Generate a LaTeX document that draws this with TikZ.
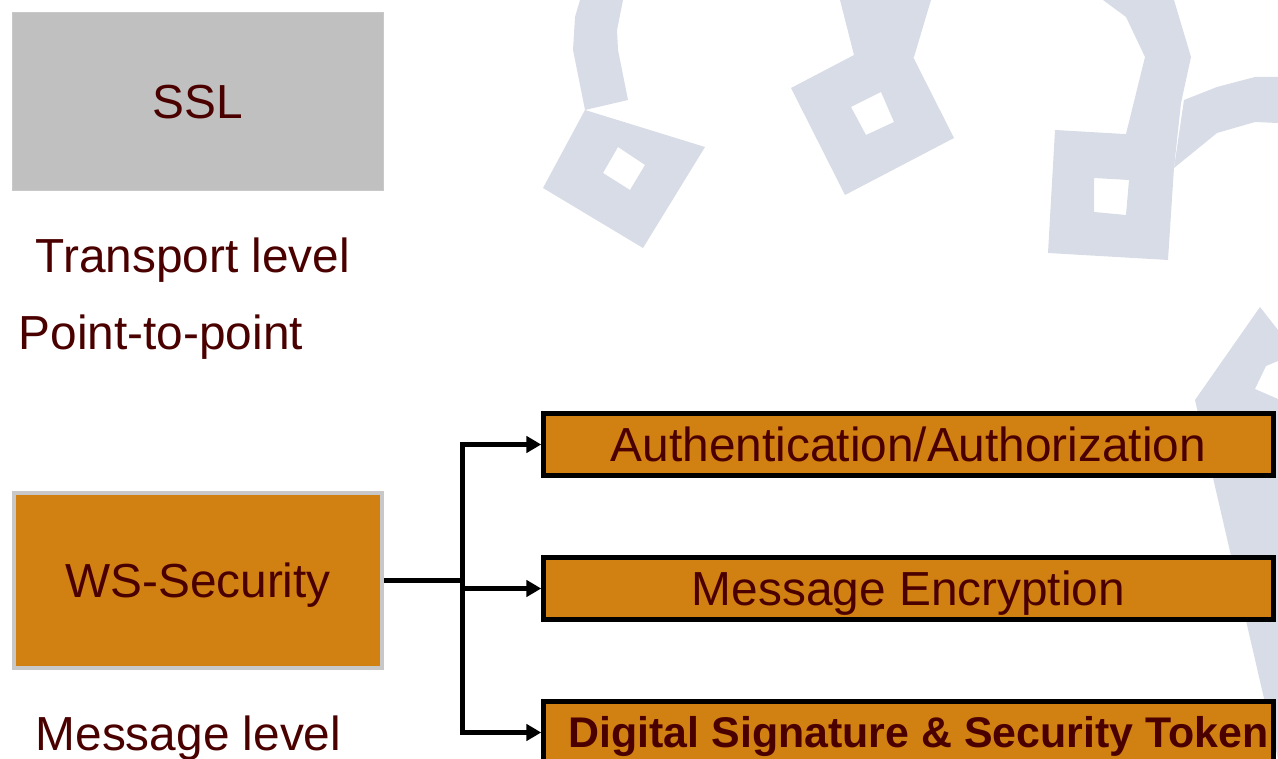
\documentclass[tikz,border=0pt]{standalone}
\usepackage{fontspec}
\setmainfont{Liberation Sans}
\usepackage{tikz}
\usetikzlibrary{arrows.meta, positioning}
\definecolor{ink}{HTML}{4B0000}
\definecolor{amber}{HTML}{D18012}
\definecolor{silver}{HTML}{C0C0C0}
\definecolor{rim}{HTML}{C8C8C8}
\definecolor{wmark}{HTML}{D8DCE6}

\begin{document}
\begin{tikzpicture}[
  font=\fontsize{13.6}{16}\selectfont,
  txt/.style={text=ink, inner sep=0pt},
  lvl/.style={txt, anchor=base west},
  pbox/.style={draw=rim, line width=0.4pt, fill=silver, text=ink,
               minimum width=3.71cm, minimum height=1.78cm,
               text height=9.7pt, text depth=0pt},
  wbox/.style={draw=rim, line width=1.2pt, fill=amber, text=ink,
               minimum width=3.68cm, minimum height=1.75cm,
               text height=9.7pt, text depth=0pt},
  fbox/.style={draw=black, line width=1.3pt, fill=amber, text=ink,
               minimum width=7.30cm, minimum height=0.62cm, inner sep=0pt,
               text height=9.7pt, text depth=0pt},
  wire/.style={line width=1.4pt},
  ar/.style={wire, -{Triangle[length=4.2pt, width=4.6pt]}},
  lock/.style={fill=wmark, even odd rule}
]
\useasboundingbox (0,0) rectangle (12.78,7.59);

% ================= background: pale locks =================
\fill[lock] (5.43,5.71) -- (5.85,6.49) -- (7.05,6.12) -- (6.43,5.11) -- cycle
            (6.18,6.12) -- (6.45,5.94) -- (6.30,5.69) -- (6.03,5.86) -- cycle;
\fill[wmark] (5.85,6.49) -- (5.73,7.09) -- (5.75,7.42) -- (5.80,7.59)
          -- (6.23,7.59) -- (6.17,7.29) -- (6.18,7.09) -- (6.28,6.59) -- cycle;

\fill[lock] (7.91,6.71) -- (9.00,7.28) -- (9.54,6.21) -- (8.45,5.64) -- cycle
            (8.81,6.67) -- (8.94,6.37) -- (8.66,6.24) -- (8.51,6.52) -- cycle;
\fill[wmark] (8.54,7.04) -- (8.40,7.59) -- (9.31,7.59) -- (9.14,7.02) -- cycle;

\fill[lock] (10.55,6.29) -- (11.76,6.22) -- (11.68,4.99) -- (10.48,5.06) -- cycle
            (10.94,5.81) -- (11.29,5.79) -- (11.26,5.44) -- (10.94,5.47) -- cycle;
\fill[wmark] (11.26,6.25) -- (11.45,7.02) -- (11.26,7.42) -- (11.03,7.59)
          -- (11.74,7.59) -- (11.91,7.02) -- (11.81,6.56) -- (11.74,5.91) -- cycle;
\fill[wmark] (11.84,6.59) -- (12.17,6.72) -- (12.55,6.82) -- (12.78,6.82)
          -- (12.78,6.36) -- (12.55,6.37) -- (12.17,6.26) -- (11.74,5.91) -- cycle;

\fill[lock] (12.60,4.52) -- (12.78,4.29) -- (12.78,0.00) -- (11.95,3.59) -- cycle
            (12.66,3.93) -- (12.78,3.98) -- (12.78,3.60) -- (12.55,3.70) -- cycle;

% ================= LEFT: transport vs message level =================
\node[pbox] (ssl) at (1.98, 6.575) {SSL};
\node[lvl] (trans) at (0.35, 4.86) {Transport level};
\node[lvl] (p2p)   at (0.18, 4.09) {Point-to-point};

\node[wbox] (ws) at (1.98, 1.785) {WS-Security};
\node[lvl] (msg) at (0.35, 0.08) {Message level};

% ================= RIGHT: what WS-Security gives =================
\node[fbox] (auth) at (9.085, 3.145) {Authentication/Authorization};
\node[fbox] (enc)  at (9.085, 1.705) {Message Encryption};
\node[fbox, font=\bfseries\fontsize{12.2}{14}\selectfont, text height=8.7pt]
  (sig) at (9.085, 0.265) {\hspace*{0.2cm}Digital Signature \& Security Token};

% --- fan-out ---
\coordinate[right=0.78cm of ws.east] (jn);
\draw[wire] (ws.east) -- (jn);
\draw[ar] (jn) |- (auth.west);
\draw[ar] (jn) |- (enc.west);
\draw[ar] (jn) |- (sig.west);

\end{tikzpicture}
\end{document}
